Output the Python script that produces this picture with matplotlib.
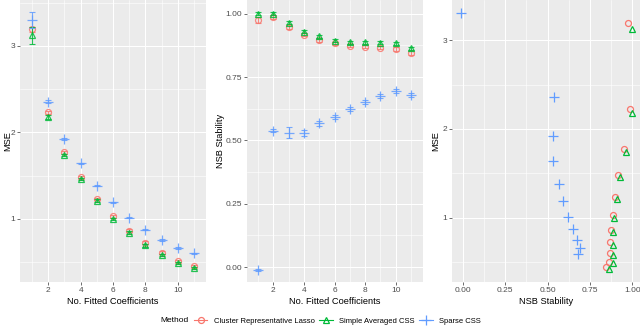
import matplotlib
matplotlib.use("Agg")
import matplotlib.pyplot as plt
from matplotlib.lines import Line2D
import numpy as np

plt.rcParams['font.family'] = ['Liberation Sans', 'DejaVu Sans']

n_coef = [1, 2, 3, 4, 5, 6, 7, 8, 9, 10, 11]
methods = ["Cluster Representative Lasso", "Simple Averaged CSS", "Sparse CSS"]
colors = ["#F8766D", "#00BA38", "#619CFF"]
markers = ["o", "^", "+"]

mse_crl = [3.19, 2.23, 1.77, 1.48, 1.23, 1.03, 0.865, 0.726, 0.61, 0.51, 0.45]
mse_sac = [3.12, 2.18, 1.74, 1.46, 1.21, 1.00, 0.84, 0.695, 0.58, 0.49, 0.43]
mse_scss = [3.30, 2.356, 1.92, 1.64, 1.385, 1.19, 1.015, 0.876, 0.757, 0.66, 0.60]
mse_err_crl = [0.03, 0.02, 0.015, 0.015, 0.015, 0.015, 0.015, 0.015, 0.015, 0.015, 0.015]
mse_err_sac = [0.095, 0.02, 0.015, 0.015, 0.015, 0.015, 0.015, 0.015, 0.015, 0.015, 0.015]
mse_err_scss = [0.09, 0.015, 0.01, 0.01, 0.01, 0.01, 0.01, 0.01, 0.01, 0.01, 0.01]

stab_crl = [0.975, 0.988, 0.949, 0.917, 0.896, 0.883, 0.874, 0.870, 0.866, 0.860, 0.846]
stab_sac = [1.000, 1.000, 0.964, 0.929, 0.910, 0.894, 0.888, 0.887, 0.886, 0.883, 0.863]
stab_scss = [-0.012, 0.538, 0.531, 0.530, 0.567, 0.593, 0.623, 0.651, 0.676, 0.693, 0.678]
stab_err_crl = [0.012, 0.008, 0.008, 0.006, 0.006, 0.006, 0.006, 0.006, 0.006, 0.008, 0.008]
stab_err_sac = [0.006, 0.006, 0.006, 0.006, 0.006, 0.006, 0.006, 0.006, 0.006, 0.006, 0.006]
stab_err_scss = [0.004, 0.006, 0.02, 0.012, 0.01, 0.008, 0.008, 0.008, 0.008, 0.008, 0.008]

mse_all = [mse_crl, mse_sac, mse_scss]
mse_err_all = [mse_err_crl, mse_err_sac, mse_err_scss]
stab_all = [stab_crl, stab_sac, stab_scss]
stab_err_all = [stab_err_crl, stab_err_sac, stab_err_scss]

W, H = 640, 330
fig = plt.figure(figsize=(W / 100, H / 100), dpi=100)

def px_axes(x0, x1, y0, y1):
    return fig.add_axes([x0 / W, 1 - y1 / H, (x1 - x0) / W, (y1 - y0) / H])

ax1 = px_axes(20, 206, 0, 282)
ax2 = px_axes(247, 423, 0, 282)
ax3 = px_axes(452, 640, 0, 282)

TICK_FS = 6.0
TITLE_FS = 6.7

def style(ax, xmaj, xmin, ymaj, ymin, xfmt, yfmt):
    ax.set_facecolor("#EBEBEB")
    for s in ax.spines.values():
        s.set_visible(False)
    ax.set_xticks(xmaj)
    ax.set_xticks(xmin, minor=True)
    ax.set_yticks(ymaj)
    ax.set_yticks(ymin, minor=True)
    ax.set_xticklabels([xfmt.format(v) for v in xmaj])
    ax.set_yticklabels([yfmt.format(v) for v in ymaj])
    ax.grid(True, which="major", color="white", linewidth=0.75)
    ax.grid(True, which="minor", color="white", linewidth=0.4)
    ax.set_axisbelow(True)
    ax.tick_params(which="major", length=2, width=0.5, color="#333333",
                   labelsize=TICK_FS, labelcolor="#4D4D4D", pad=1.5)
    ax.tick_params(which="minor", length=0)

mk_sizes = [4.3, 4.8, 6.5]
MEW = 0.9

for i in range(3):
    ax1.errorbar(n_coef, mse_all[i], yerr=mse_err_all[i], fmt="none",
                 ecolor=colors[i], elinewidth=0.8, capsize=2.5, capthick=0.8, alpha=0.85)
    ax1.plot(n_coef, mse_all[i], linestyle="none", marker=markers[i], color=colors[i],
             markersize=mk_sizes[i], markerfacecolor="none", markeredgecolor=colors[i],
             markeredgewidth=MEW, alpha=0.85)
    ax2.errorbar(n_coef, stab_all[i], yerr=stab_err_all[i], fmt="none",
                 ecolor=colors[i], elinewidth=0.8, capsize=2.5, capthick=0.8, alpha=0.85)
    ax2.plot(n_coef, stab_all[i], linestyle="none", marker=markers[i], color=colors[i],
             markersize=mk_sizes[i], markerfacecolor="none", markeredgecolor=colors[i],
             markeredgewidth=MEW, alpha=0.85)
    ax3.plot(stab_all[i], mse_all[i], linestyle="none", marker=markers[i], color=colors[i],
             markersize=mk_sizes[i], markerfacecolor="none", markeredgecolor=colors[i],
             markeredgewidth=MEW)

ax1.set_xlim(0.25, 11.75)
ax1.set_ylim(0.27, 3.53)
style(ax1, [2, 4, 6, 8, 10], [1, 3, 5, 7, 9, 11], [1, 2, 3], [0.5, 1.5, 2.5, 3.5], "{:g}", "{:g}")
ax1.set_xlabel("No. Fitted Coefficients", fontsize=TITLE_FS, labelpad=2)
ax1.set_ylabel("MSE", fontsize=TITLE_FS)
ax1.yaxis.set_label_coords((12 - 20) / 186, 0.5)

ax2.set_xlim(0.28, 11.78)
ax2.set_ylim(-0.059, 1.054)
style(ax2, [2, 4, 6, 8, 10], [1, 3, 5, 7, 9, 11], [0, 0.25, 0.5, 0.75, 1.0],
      [0.125, 0.375, 0.625, 0.875], "{:g}", "{:.2f}")
ax2.set_xlabel("No. Fitted Coefficients", fontsize=TITLE_FS, labelpad=2)
ax2.set_ylabel("NSB Stability", fontsize=TITLE_FS)
ax2.yaxis.set_label_coords((225 - 247) / 176, 0.5)

ax3.set_xlim(-0.063, 1.045)
ax3.set_ylim(0.28, 3.45)
style(ax3, [0, 0.25, 0.5, 0.75, 1.0], [0.125, 0.375, 0.625, 0.875],
      [1, 2, 3], [0.5, 1.5, 2.5], "{:.2f}", "{:g}")
ax3.set_xlabel("NSB Stability", fontsize=TITLE_FS, labelpad=2)
ax3.set_ylabel("MSE", fontsize=TITLE_FS)
ax3.yaxis.set_label_coords((440 - 452) / 188, 0.5)

handles = [Line2D([0], [0], color=colors[i], marker=markers[i], markersize=mk_sizes[i],
                  markerfacecolor="none", markeredgecolor=colors[i],
                  markeredgewidth=MEW, linewidth=0.8)
           for i in range(3)]
fig.text(160 / W, 1 - 321 / H, "Method", fontsize=6.0, va="center", ha="left")
fig.legend(handles, methods, loc="center left", bbox_to_anchor=(194 / W, 1 - 321 / H),
           ncol=3, frameon=False, fontsize=5.5, handlelength=1.75, handletextpad=0.85,
           columnspacing=0.6, borderpad=0, borderaxespad=0)

fig.savefig("out.png", dpi=100)
